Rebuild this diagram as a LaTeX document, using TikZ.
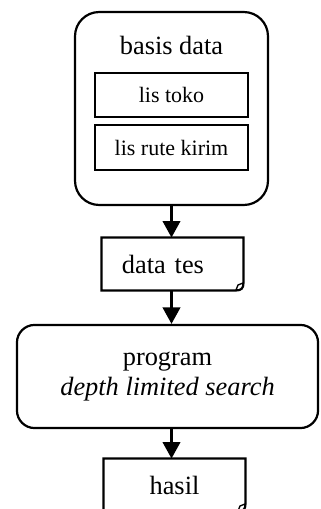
\documentclass[tikz,border=0pt]{standalone}
\usepackage{fontspec}
\setmainfont{Liberation Serif}
\usetikzlibrary{arrows.meta}
\tikzset{
  lisbox/.style={draw, line width=1pt, minimum width=69.6pt, minimum height=20pt, font=\fontsize{10}{12}\selectfont},
  dbbox/.style={draw, line width=1pt, rounded corners=11pt, minimum width=87.8pt, minimum height=87.8pt},
  progbox/.style={draw, line width=1pt, rounded corners=8pt, minimum width=137pt, minimum height=46.9pt, align=center, font=\fontsize{12}{13.7}\selectfont},
  docbox/.style={minimum width=64.2pt, minimum height=23.7pt, font=\fontsize{12}{14}\selectfont},
  arr/.style={line width=1pt, -{Triangle[length=7.5pt,width=8pt]}}
}
% document shape with a curled corner
\newcommand{\docoutline}[1]{%
  \draw[line width=1pt] (#1.north west) -- (#1.north east) -- ([yshift=3.5pt]#1.south east)
    .. controls ([yshift=1pt]#1.south east) and ([xshift=-1pt]#1.south east) .. ([xshift=-3.5pt]#1.south east)
    -- (#1.south west) -- cycle;
  \draw[line width=0.6pt] ([xshift=-3.5pt]#1.south east) -- ([xshift=-2.5pt,yshift=2.5pt]#1.south east) -- ([yshift=3.5pt]#1.south east);}
\begin{document}
\begin{tikzpicture}[x=0.455pt, y=-0.455pt]
      \useasboundingbox (0,0) rectangle (320,509);
      \clip (0,0) rectangle (320,509);
      \node[dbbox] (basis) at (171.5,108.5) {};
      \node[anchor=base, font=\fontsize{12}{14}\selectfont] (judul) at (171.5,55) {basis data};
      \node[lisbox] (toko) at (171.5,95) {lis toko};
      \node[lisbox, minimum height=20.5pt] (rute) at (171.5,147.5) {lis rute kirim};
      \node[docbox, text width=46pt, inner xsep=9.1pt, align=left] (tes) at (172.5,264) {data tes};
      \docoutline{tes}
      \node[progbox] (prog) at (167.5,376.5) {program\\\textit{depth limited search}};
      \node[docbox] (hasil) at (174.5,485) {hasil};
      \docoutline{hasil}
      \draw[arr] (basis.south) -- (basis.south |- tes.north);
      \draw[arr] (basis |- tes.south) -- (basis |- prog.north);
      \draw[arr] (basis |- prog.south) -- (basis |- hasil.north);
    \end{tikzpicture}
\end{document}
